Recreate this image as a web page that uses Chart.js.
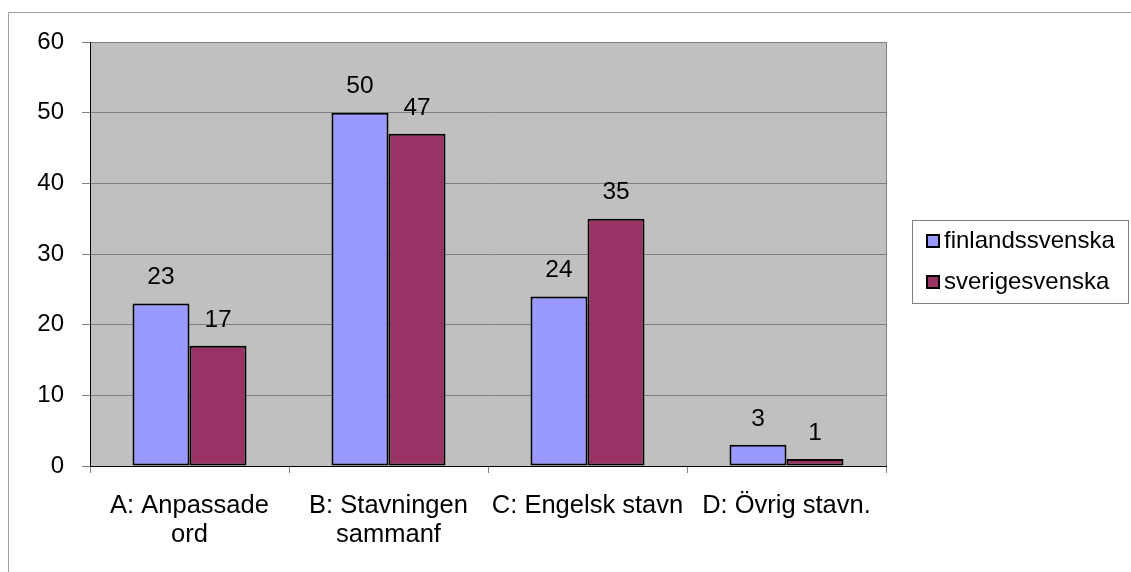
<!DOCTYPE html>
<html>
<head>
<meta charset="utf-8">
<script src="https://cdn.jsdelivr.net/npm/chart.js@4/dist/chart.umd.min.js"></script>
<style>
  html, body { margin: 0; padding: 0; background: #fff; }
  #wrap { width: 1131px; height: 572px; }
</style>
</head>
<body>
<div id="wrap"><canvas id="chart" width="1131" height="572"></canvas></div>
<script>
// values
const categories = [['A: Anpassade', 'ord'], ['B: Stavningen', 'sammanf'], 'C: Engelsk stavn', 'D: Övrig stavn.'];
const seriesNames = ['finlandssvenska', 'sverigesvenska'];
const finlandssvenska = [23, 50, 24, 3];
const sverigesvenska = [17, 47, 35, 1];
const yTicks = [0, 10, 20, 30, 40, 50, 60];

const colors = ['#9999FF', '#993366'];
const font = 'Arial, "Liberation Sans", sans-serif';

// white page, grey frame and grey plot area
const frame = {
  id: 'frame',
  beforeDraw(chart) {
    const c = chart.ctx, a = chart.chartArea;
    c.save();
    c.fillStyle = '#fff';
    c.fillRect(0, 0, chart.width, chart.height);
    c.strokeStyle = '#a0a0a0';
    c.lineWidth = 1;
    c.strokeRect(8.5, 12.5, chart.width + 10, chart.height + 10);
    c.fillStyle = '#C0C0C0';
    c.fillRect(a.left, a.top, a.right - a.left, a.bottom - a.top);
    c.strokeStyle = '#808080';
    c.beginPath();
    c.moveTo(a.right + 0.5, a.top);
    c.lineTo(a.right + 0.5, a.bottom);
    c.stroke();
    c.restore();
  }
};

// numbers above the bars
const valueLabels = {
  id: 'valueLabels',
  afterDatasetsDraw(chart) {
    const c = chart.ctx;
    c.save();
    c.fillStyle = '#000';
    c.font = '24.5px ' + font;
    c.textAlign = 'center';
    c.textBaseline = 'middle';
    chart.data.datasets.forEach((ds, i) => {
      chart.getDatasetMeta(i).data.forEach((bar, j) => {
        c.fillText(ds.data[j], bar.x, bar.y - 26);
      });
    });
    c.restore();
  }
};

// boxed legend on the right
const boxLegend = {
  id: 'boxLegend',
  afterDraw(chart) {
    const c = chart.ctx;
    const x = 912, y = 220, w = 216, h = 83;
    c.save();
    c.fillStyle = '#fff';
    c.fillRect(x, y, w, h);
    c.strokeStyle = '#808080';
    c.lineWidth = 1;
    c.strokeRect(x + 0.5, y + 0.5, w, h);
    c.font = '24px ' + font;
    c.textBaseline = 'middle';
    chart.data.datasets.forEach((ds, i) => {
      const cy = y + 21 + i * 41;
      c.fillStyle = ds.backgroundColor;
      c.fillRect(x + 15, cy - 6, 12, 12);
      c.strokeStyle = '#000';
      c.lineWidth = 2;
      c.strokeRect(x + 15, cy - 6, 12, 12);
      c.fillStyle = '#000';
      c.fillText(ds.label, x + 32, cy);
    });
    c.restore();
  }
};

new Chart(document.getElementById('chart'), {
  type: 'bar',
  data: {
    labels: categories,
    datasets: [
      { label: seriesNames[0], data: finlandssvenska, backgroundColor: colors[0] },
      { label: seriesNames[1], data: sverigesvenska, backgroundColor: colors[1] }
    ]
  },
  options: {
    responsive: false,
    animation: false,
    layout: { padding: { top: 42, right: 245, bottom: 0, left: 0 } },
    datasets: {
      bar: {
        borderColor: '#000',
        borderWidth: 2,
        borderSkipped: false,
        categoryPercentage: 0.573,
        barPercentage: 1
      }
    },
    plugins: {
      legend: { display: false },
      tooltip: { enabled: false }
    },
    scales: {
      x: {
        offset: true,
        afterFit(scale) { scale.height = 106; },
        grid: { offset: true, drawOnChartArea: false, color: '#808080', tickLength: 7 },
        border: { color: '#000', width: 1 },
        ticks: { color: '#000', font: { family: font, size: 25.5, lineHeight: 1.15 }, padding: 18, maxRotation: 0, autoSkip: false }
      },
      y: {
        min: 0,
        max: 60,
        afterFit(scale) { scale.width = 90; },
        afterBuildTicks(scale) { scale.ticks = yTicks.map(v => ({ value: v })); },
        grid: { color: '#808080', tickColor: '#808080', tickLength: 8 },
        border: { color: '#000', width: 1 },
        ticks: { color: '#000', font: { family: font, size: 24 }, padding: 18 }
      }
    }
  },
  plugins: [frame, valueLabels, boxLegend]
});
</script>
</body>
</html>
